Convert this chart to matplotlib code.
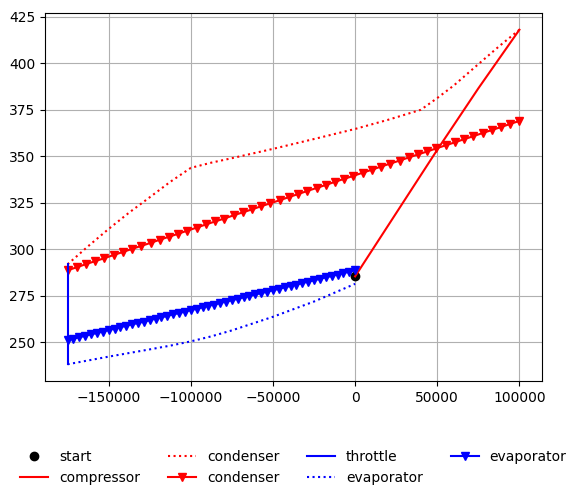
import matplotlib
matplotlib.use("Agg")
import matplotlib.pyplot as plt

# start point
start_h = [0]
start_T = [285.5]

# compressor
comp_h = [0, 25000, 50000, 75000, 100000]
comp_T = [285.5, 319.5, 353.5, 386.5, 418.0]

# condenser refrigerant side (dotted)
cond_h = [-175000, -162500, -150000, -137500, -125000, -112500, -100000, -87500, -75000,
          -50000, -25000, 0, 20000, 40000, 50000, 60000, 75000, 87500, 100000]
cond_T = [292.0, 301.7, 311.0, 319.8, 328.0, 336.3, 343.8, 346.6, 349.0,
          354.0, 359.3, 364.7, 369.6, 375.0, 381.3, 388.0, 399.5, 409.0, 418.0]

# condenser secondary side (markers)
condm_h = [-175000, -169388, -163776, -158163, -152551, -146939, -141327, -135714,
           -130102, -124490, -118878, -113265, -107653, -102041, -96429, -90816,
           -85204, -79592, -73980, -68367, -62755, -57143, -51531, -45918,
           -40306, -34694, -29082, -23469, -17857, -12245, -6633, -1020,
           4592, 10204, 15816, 21429, 27041, 32653, 38265, 43878,
           49490, 55102, 60714, 66327, 71939, 77551, 83163, 88776, 94388, 100000]
condm_T = [288.8, 290.4, 292.1, 293.7, 295.3, 297.0, 298.6, 300.3,
           301.9, 303.5, 305.2, 306.8, 308.4, 310.1, 311.7, 313.4,
           315.0, 316.6, 318.3, 319.9, 321.5, 323.2, 324.8, 326.4,
           328.1, 329.7, 331.4, 333.0, 334.6, 336.3, 337.9, 339.5,
           341.2, 342.8, 344.5, 346.1, 347.7, 349.4, 351.0, 352.6,
           354.3, 355.9, 357.5, 359.2, 360.8, 362.5, 364.1, 365.7, 367.4, 369.0]

# throttle
thr_h = [-175000, -175000]
thr_T = [292.0, 238.3]

# evaporator refrigerant side (dotted)
evap_h = [-175000, -150000, -125000, -112500, -100000, -87500, -75000, -50000, -25000, 0]
evap_T = [238.3, 242.4, 246.3, 248.3, 250.6, 253.3, 256.5, 263.8, 272.0, 281.5]

# evaporator secondary side (markers)
evapm_h = [-175000, -171429, -167857, -164286, -160714, -157143, -153571, -150000,
           -146429, -142857, -139286, -135714, -132143, -128571, -125000, -121429,
           -117857, -114286, -110714, -107143, -103571, -100000, -96429, -92857,
           -89286, -85714, -82143, -78571, -75000, -71429, -67857, -64286,
           -60714, -57143, -53571, -50000, -46429, -42857, -39286, -35714,
           -32143, -28571, -25000, -21429, -17857, -14286, -10714, -7143, -3571, 0]
evapm_T = [251.3, 252.1, 252.8, 253.6, 254.4, 255.1, 255.9, 256.7,
           257.4, 258.2, 259.0, 259.7, 260.5, 261.2, 262.0, 262.8,
           263.5, 264.3, 265.1, 265.8, 266.6, 267.4, 268.1, 268.9,
           269.7, 270.4, 271.2, 272.0, 272.7, 273.5, 274.3, 275.0,
           275.8, 276.5, 277.3, 278.1, 278.8, 279.6, 280.4, 281.1,
           281.9, 282.7, 283.4, 284.2, 285.0, 285.7, 286.5, 287.3, 288.0, 288.8]

fig = plt.figure(figsize=(5.82, 5.0), dpi=100)
ax = fig.add_axes([45/582, 1-381/500, (542-45)/582, (381-13)/500])

ax.plot(start_h, start_T, 'o', color='black', label='start')
ax.plot(comp_h, comp_T, '-', color='red', label='compressor')
ax.plot(cond_h, cond_T, ':', color='red', label='condenser')
ax.plot(condm_h, condm_T, 'v-', color='red', label='condenser')
ax.plot(thr_h, thr_T, '-', color='blue', label='throttle')
ax.plot(evap_h, evap_T, ':', color='blue', label='evaporator')
ax.plot(evapm_h, evapm_T, 'v-', color='blue', label='evaporator')

ax.grid(True)
ax.legend(loc='upper center', bbox_to_anchor=(0.5, -0.154), ncol=4, frameon=False)

fig.savefig('out.png', dpi=100)
